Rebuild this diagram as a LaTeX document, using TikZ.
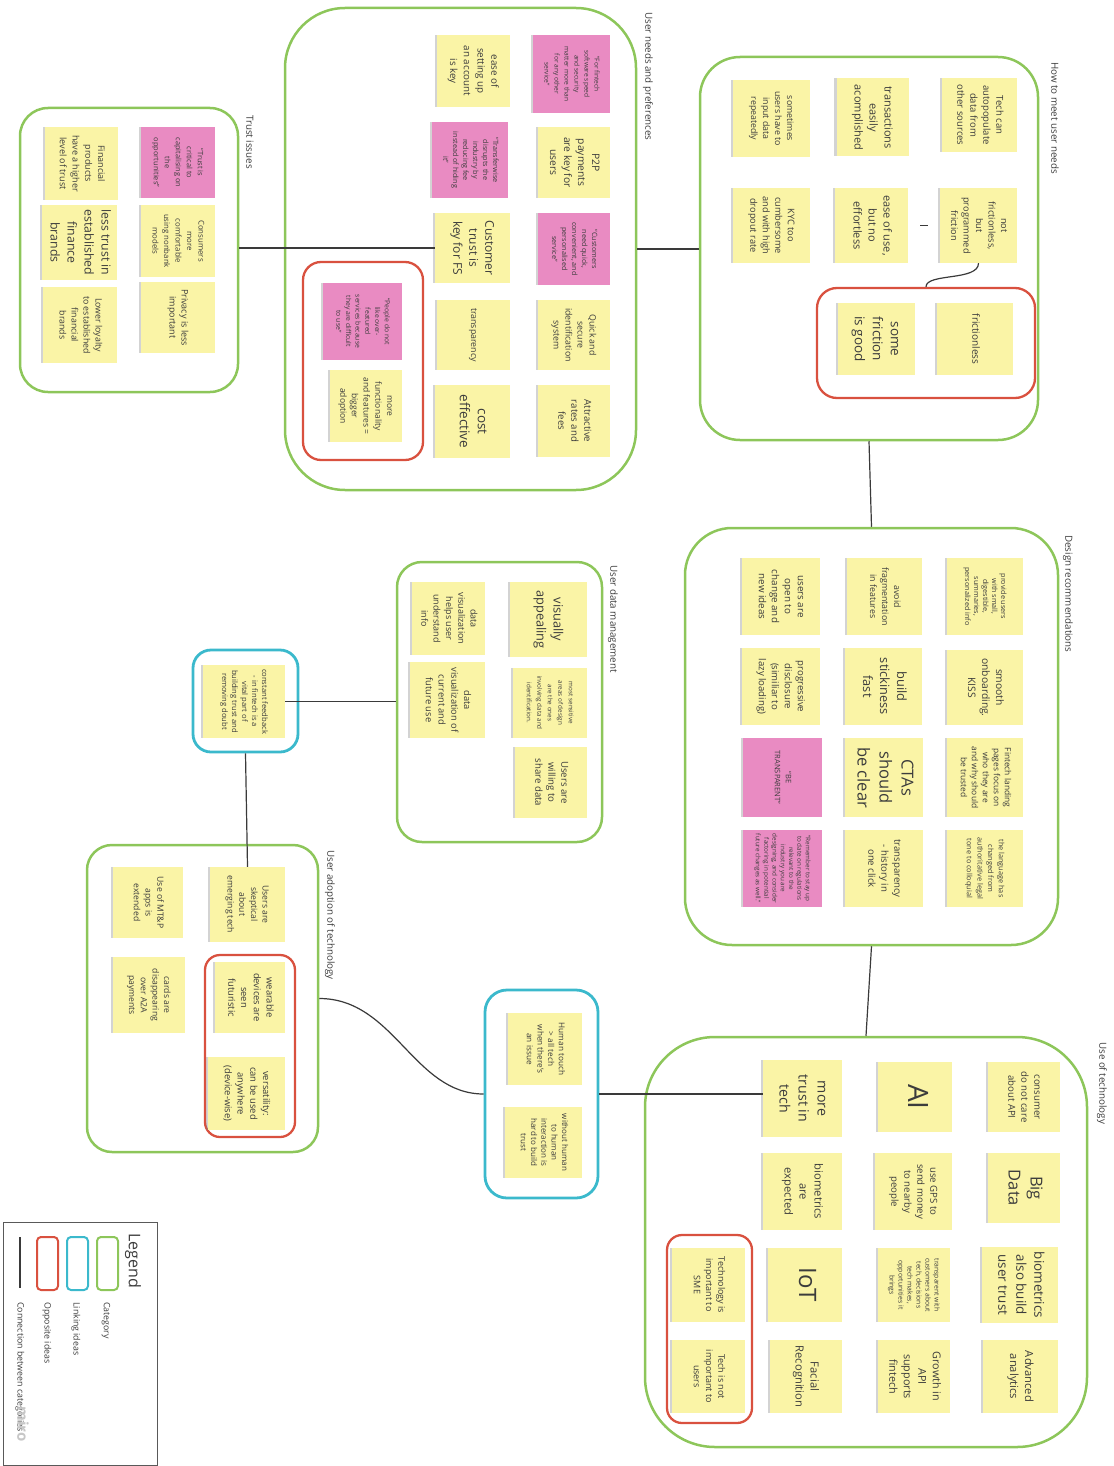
\documentclass[tikz,border=0pt]{standalone}
\usepackage{fontspec}
\setmainfont{Open Sans}
\usepackage{graphicx}
\usetikzlibrary{shadows}
\definecolor{stY}{HTML}{FAF4A6}
\definecolor{stP}{HTML}{E98BC2}
\definecolor{grn}{HTML}{8DC65A}
\definecolor{cyn}{HTML}{3BB9CC}
\definecolor{rd}{HTML}{D9513F}
\definecolor{txt}{HTML}{3C3C3C}
\definecolor{lnk}{HTML}{3A3A3A}
\tikzset{
  sticky/.style={draw=none, inner sep=0pt, text=txt,
    drop shadow={shadow xshift=-2.4pt, shadow yshift=0pt, opacity=0.35}},
  grp/.style={draw=grn, line width=2.5pt},
  opp/.style={draw=rd, line width=2.3pt},
  lnkbox/.style={draw=cyn, line width=2.8pt},
  conn/.style={draw=lnk, line width=1.2pt},
  glabel/.style={rotate=-90, anchor=west, inner sep=0pt, text=txt,
    font=\fontsize{9.8}{11}\selectfont},
  leglbl/.style={rotate=-90, anchor=west, inner sep=0pt, text=txt,
    font=\fontsize{8.8}{10}\selectfont},
}
\newcommand\stk[9]{%
  \node[sticky, fill=#6, minimum width=#4pt, minimum height=#5pt] (#1) at (#2,#3)
  {\rotatebox{-90}{\fontsize{#7}{#8}\selectfont\begin{tabular}{@{}c@{}}#9\end{tabular}}};}
\newcommand\gbox[6]{%
  \node[#6, rounded corners=#5pt, minimum width=#3pt, minimum height=#4pt] (#1) at (#2) {};}
\begin{document}
\begin{tikzpicture}[x=1pt,y=-1pt]
\useasboundingbox (0,0) rectangle (1113,1466);
% ---------- group boxes ----------
\gbox{tg}{129,250}{218}{284}{28}{grp}
\gbox{ug}{460.5,249}{351}{482}{60}{grp}
\gbox{hg}{869,248.5}{338}{383}{40}{grp}
\gbox{dg}{871.5,736.5}{373}{417}{47}{grp}
\gbox{mg}{499.5,702}{205}{280}{25}{grp}
\gbox{ag}{202.5,998.5}{231}{307}{25}{grp}
\gbox{eg}{866,1242}{442}{410}{70}{grp}
\gbox{lk1}{245.5,701}{105}{102}{18}{lnkbox}
\gbox{lk2}{541.5,1094}{113}{208}{22}{lnkbox}
\gbox{ured}{363,361}{120}{198}{18}{opp}
\gbox{hred}{926,343}{218}{110}{20}{opp}
\gbox{ared}{250,1046}{90}{182}{15}{opp}
\gbox{ered}{709.5,1329}{85}{188}{15}{opp}
% ---------- labels ----------
\node[glabel] (lbT) at (250,115) {Trust issues};
\node[glabel] (lbU) at (648,12) {User needs and preferences};
\node[glabel] (lbH) at (1055,62) {How to meet user needs};
\node[glabel] (lbD) at (1068,535) {Design recommendations};
\node[glabel] (lbM) at (613,565) {User data management};
\node[glabel] (lbA) at (330,850) {User adoption of technology};
\node[glabel] (lbE) at (1102,1042) {Use of technology};
% ---------- Trust issues ----------
\stk{t1}{178}{162.5}{74}{71}{stP}{7.4}{11}{“Trust is\\critical to\\capitalising on\\the\\opportunities”}
\stk{t2}{81.5}{163.5}{73}{73}{stY}{9}{12.7}{Financial\\products\\have a higher\\level of trust}
\stk{t3}{178}{241}{74}{72}{stY}{7.8}{11.5}{Consumers\\more\\comfortable\\using nonbank\\models}
\stk{t4}{79.5}{242.5}{75}{75}{stY}{12.3}{17}{less trust in\\established\\finance\\brands}
\stk{t5}{178}{317.5}{74}{71}{stY}{9}{12}{Privacy is less\\important}
\stk{t6}{80}{325}{74}{76}{stY}{8.8}{12}{Lower loyalty\\to established\\financial\\brands}
% ---------- User needs ----------
\stk{u1}{571.5}{74}{77}{78}{stP}{6.6}{10}{“For fintech\\software speed\\and security\\matter more than\\for any other\\service”}
\stk{u2}{473.5}{71}{73}{72}{stY}{9.8}{13.7}{ease of\\setting up\\an account\\is key}
\stk{u3}{470}{160}{76}{76}{stP}{7.2}{10}{“Transferwise\\disrupts the\\industry by\\reducing fee\\instead of hiding\\it”}
\stk{u4}{574}{162.5}{72}{71}{stY}{10.3}{14}{P2P\\payments\\are key for\\users}
\stk{u5}{472.5}{248}{75}{70}{stY}{12}{16}{Customer\\trust is\\key for FS}
\stk{u6}{574}{249}{72}{72}{stP}{7.2}{10}{“Customers\\need quick,\\convenient, and\\personalised\\service”}
\stk{u7}{574}{335}{72}{70}{stY}{8.8}{12}{Quick and\\secure\\identification\\system}
\stk{u8}{473.5}{335}{73}{70}{stY}{8.8}{12}{transparency}
\stk{u9}{574}{421}{72}{72}{stY}{9.6}{13}{Attractive\\rates and\\fees}
\stk{u10}{472.5}{421.5}{75}{73}{stY}{13.5}{18}{cost\\effective}
\stk{u11}{362.5}{321.5}{79}{77}{stP}{6.8}{9.7}{“People do not\\like over-\\featured\\services because\\they are difficult\\to use”}
\stk{u12}{366}{406}{72}{72}{stY}{8.5}{11.7}{more\\functionality\\and features =\\bigger\\adoption}
% ---------- How to meet ----------
\stk{h1}{979.5}{115}{75}{74}{stY}{9.5}{13}{Tech can\\autopopulate\\data from\\other sources}
\stk{h2}{872.5}{117.5}{72}{78}{stY}{11}{15}{transactions\\easily\\acomplished}
\stk{h3}{771.5}{118.5}{77}{77}{stY}{8.8}{12}{sometimes\\users have to\\input data\\repeatedly}
\stk{h4}{978.5}{225.5}{77}{75}{stY}{9.2}{12.5}{not\\frictionless,\\but\\programmed\\friction}
\stk{h5}{871.5}{225.5}{73}{75}{stY}{11}{15}{ease of use,\\but no\\effortless}
\stk{h6}{771.5}{225.5}{77}{75}{stY}{9.2}{12.5}{KYC too\\cumbersome\\and with high\\dropout rate}
\stk{h7}{975}{339}{76}{72}{stY}{10}{13}{frictionless}
\stk{h8}{876.5}{339}{77}{72}{stY}{13.5}{18}{some\\friction\\is good}
% ---------- Design recommendations ----------
\stk{d1}{985}{596.5}{76}{77}{stY}{7.2}{9}{provide users\\with small,\\digestible,\\summaries,\\personalized info}
\stk{d2}{884.5}{596.5}{75}{77}{stY}{8.8}{12}{avoid\\fragmentation\\in features}
\stk{d3}{781}{596.5}{78}{77}{stY}{9.8}{13}{users are\\open to\\change and\\new ideas}
\stk{d4}{985}{687.5}{76}{75}{stY}{10.3}{14}{smooth\\onboarding.\\KISS}
\stk{d5}{883.5}{686.5}{77}{77}{stY}{12.8}{17}{build\\stickiness\\fast}
\stk{d6}{781}{686.5}{78}{77}{stY}{9.6}{13}{progressive\\disclosure\\(similiar to\\lazy loading)}
\stk{d7}{985}{777.5}{76}{79}{stY}{8.4}{11}{Fintech landing\\pages focus on\\who they are\\and why should\\be trusted}
\stk{d8}{884}{777.5}{78}{79}{stY}{16.5}{22}{CTAs\\should\\be clear}
\stk{d9}{782.5}{777.5}{79}{79}{stP}{7.5}{11}{“BE\\TRANSPARENT”}
\stk{d10}{985}{868.5}{76}{77}{stY}{7.3}{10.7}{the language has\\changed from\\authoritative legal\\tone to colloquial}
\stk{d11}{884}{868.5}{78}{77}{stY}{9.6}{13}{transparency\\- history in\\one click}
\stk{d12}{782.5}{868.5}{79}{77}{stP}{6.3}{8.3}{“Remember to stay up\\to date on regulations\\relevant to the\\industry you are\\designing, and consider\\factoring in potential\\future changes as well.”}
% ---------- User data management ----------
\stk{m1}{548.5}{619.5}{77}{75}{stY}{12.8}{17}{visually\\appealing}
\stk{m2}{448.5}{618.5}{73}{73}{stY}{9}{12.3}{data\\visualization\\helps user\\understand\\info}
\stk{m3}{550}{703}{74}{70}{stY}{6.3}{10.5}{most sensitive\\areas of design\\are the ones\\involving data and\\identification.}
\stk{m4}{447.5}{700}{75}{76}{stY}{9.3}{12.7}{data\\visualization of\\current and\\future use}
\stk{m5}{551}{782.5}{72}{71}{stY}{9.6}{13}{Users are\\willing to\\share data}
\stk{lk1s}{244}{701.5}{82}{73}{stY}{7.6}{10}{constant feedback\\- in fintech is a\\vital part of\\building trust and\\removing doubt}
% ---------- User adoption ----------
\stk{a1}{247.5}{904.5}{75}{75}{stY}{8.6}{11.7}{Users are\\skeptical\\about\\emerging tech}
\stk{a2}{148}{902.5}{70}{71}{stY}{8.6}{11.7}{Use of MT\&P\\apps is\\extended}
\stk{a3}{250}{997.5}{70}{71}{stY}{9.4}{12.7}{wearable\\devices are\\seen\\futuristic}
\stk{a4}{149}{995}{72}{76}{stY}{8.6}{11.7}{cards are\\disappearing\\over A2A\\payments}
\stk{a5}{246.5}{1093.5}{77}{73}{stY}{9.4}{12.7}{versatility:\\can be used\\anywhere\\(device-wise)}
% ---------- Human touch ----------
\stk{k1}{545}{1049}{74}{72}{stY}{8.2}{10.7}{Human touch\\> all tech\\when there's\\an issue}
\stk{k2}{543.5}{1142.5}{77}{71}{stY}{8}{10.3}{without human\\to human\\interaction is\\hard to build\\trust}
% ---------- Use of technology ----------
\stk{e1}{1024}{1097}{72}{70}{stY}{9.6}{13}{consumer\\do not care\\about API}
\stk{e2}{915}{1097}{74}{70}{stY}{28}{34}{AI}
\stk{e3}{802.5}{1098.5}{79}{77}{stY}{14.2}{19}{more\\trust in\\tech}
\stk{e4}{1024}{1188}{72}{70}{stY}{16.5}{22}{Big\\Data}
\stk{e5}{913.5}{1191.5}{77}{77}{stY}{9.6}{13}{use GPS to\\send money\\to nearby\\people}
\stk{e6}{802.5}{1191.5}{79}{77}{stY}{11.2}{15}{biometrics\\are\\expected}
\stk{e7}{1020}{1285}{76}{76}{stY}{13.4}{18}{biometrics\\also build\\user trust}
\stk{e8}{914}{1285}{72}{74}{stY}{6.8}{9}{transparent with\\customers about\\tech, decisions\\tech makes,\\opportunities it\\brings}
\stk{e9}{805}{1285}{74}{74}{stY}{24}{30}{IoT}
\stk{e10}{708.5}{1285}{73}{74}{stY}{9}{12.3}{Technology is\\important to\\SME}
\stk{e11}{1020.5}{1376.5}{75}{73}{stY}{11.2}{15}{Advanced\\analytics}
\stk{e12}{914}{1376.5}{72}{73}{stY}{10.8}{14.5}{Growth in\\API\\supports\\fintech}
\stk{e13}{806}{1376.5}{72}{73}{stY}{11.2}{15}{Facial\\Recognition}
\stk{e14}{708.5}{1376.5}{73}{73}{stY}{9}{12.3}{Tech is not\\important to\\users}
% ---------- connectors ----------
\draw[conn] (tg.east |- u5.west) -- (u5.west);
\draw[conn] (ug.east) -- (hg.west |- ug.east);
\draw[conn] (hg.south) -- (dg.north);
\draw[conn] (dg.south) -- (eg.north);
\draw[conn] (lk1s.east) -- (mg.west |- lk1s.east);
\draw[conn] (lk1.south) -- (a1.north);
\draw[conn] (ag.east) .. controls +(75,0) and +(-70,0) .. (lk2.west);
\draw[conn] (lk2.east) -- (e3.west |- lk2.east);
\draw[conn] (h4.south) .. controls +(0,18) and +(0,-14) .. (hred.north);
\draw[conn, shorten <=12pt, shorten >=12pt] (h5.east) -- (h4.west);
% ---------- legend ----------
\node[draw=black!65, line width=0.8pt, minimum width=154pt, minimum height=243pt] (lg) at (80,1343.5) {};
\node[rotate=-90, anchor=west, inner sep=0pt, text=txt, font=\fontsize{16}{18}\selectfont] (lgt) at (133,1233) {Legend};
\node[draw=grn, line width=2pt, rounded corners=4pt, minimum width=21pt, minimum height=53pt] (lgG) at (107.5,1263.5) {};
\node[draw=cyn, line width=2pt, rounded corners=4pt, minimum width=21pt, minimum height=53pt] (lgC) at (77.5,1263.5) {};
\node[draw=rd, line width=2pt, rounded corners=4pt, minimum width=21pt, minimum height=53pt] (lgR) at (47.5,1263.5) {};
\coordinate (lgA) at (20,1237);
\coordinate (lgB) at (20,1288);
\draw[conn, line width=1.5pt] (lgA) -- (lgB);
\node[leglbl] (lgG1) at (106,1302) {Category};
\node[leglbl] (lgC1) at (76,1302) {Linking ideas};
\node[leglbl] (lgR1) at (47,1302) {Opposite ideas};
\node[leglbl] (lgL1) at (20,1302) {Connection between categories};
\node[rotate=-90, inner sep=0pt, text=black!22, font=\bfseries\fontsize{15}{15}\selectfont] (miro) at (23,1424) {miro};
\end{tikzpicture}
\end{document}
